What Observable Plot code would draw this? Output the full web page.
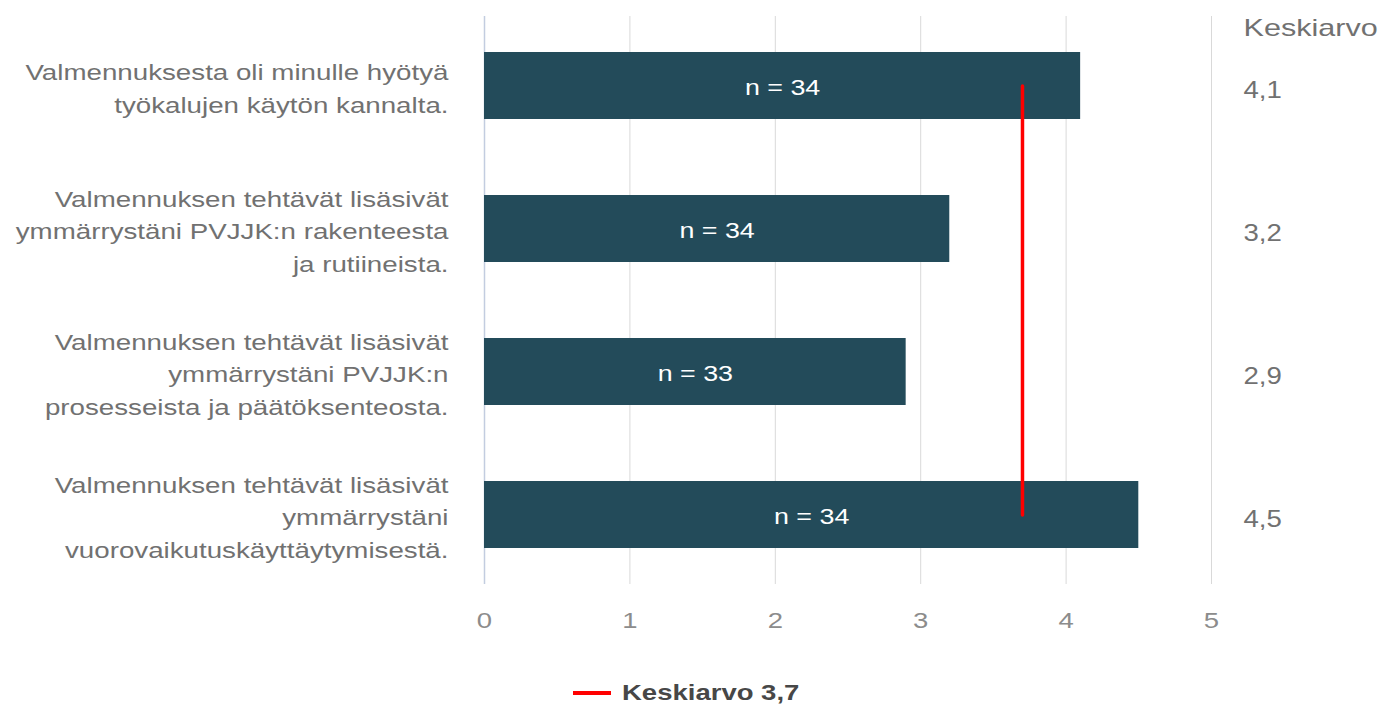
<!DOCTYPE html>
<html>
<head>
<meta charset="utf-8">
<script src="https://cdn.jsdelivr.net/npm/d3@7"></script>
<script src="https://cdn.jsdelivr.net/npm/@observablehq/plot@0.6"></script>
<style>
  html, body { margin: 0; padding: 0; background: #fff; }
  body { width: 1394px; height: 707px; overflow: hidden; position: relative; font-family: "Liberation Sans", Arial, sans-serif; }
  #legend { position: absolute; left: 573px; top: 678px; height: 30px; display: flex; align-items: center; }
  #legend .swatch { width: 38px; height: 4px; background: #ff0000; margin-right: 11px; }
  #legend .label { font-size: 22px; font-weight: bold; color: #474747; display: inline-block; transform: scaleX(1.25); transform-origin: left center; }
</style>
</head>
<body>
<div id="chart"></div>
<div id="legend"><span class="swatch"></span><span class="label"></span></div>
<script>
// Survey statements (wrapped as shown on the left) and their averages
const statements = [
  "Valmennuksesta oli minulle hyötyä\ntyökalujen käytön kannalta.",
  "Valmennuksen tehtävät lisäsivät\nymmärrystäni PVJJK:n rakenteesta\nja rutiineista.",
  "Valmennuksen tehtävät lisäsivät\nymmärrystäni PVJJK:n\nprosesseista ja päätöksenteosta.",
  "Valmennuksen tehtävät lisäsivät\nymmärrystäni\nvuorovaikutuskäyttäytymisestä."
];
const averages = [4.1, 3.2, 2.9, 4.5];
const respondents = [34, 34, 33, 34];
const overallAverage = 3.7;
const xTicks = [0, 1, 2, 3, 4, 5];
const columnTitle = "Keskiarvo";

const fmt = v => v.toFixed(1).replace(".", ",");

const rows = statements.map((s, i) => ({statement: s, avg: averages[i], n: respondents[i]}));
const meanLine = [
  {statement: statements[0], value: overallAverage},
  {statement: statements[statements.length - 1], value: overallAverage}
];

const barColor = "#234b5a";
const textGray = "#717171";

const chart = Plot.plot({
  width: 1394,
  height: 655,
  marginLeft: 484,
  marginRight: 183,
  marginTop: 16,
  marginBottom: 71,
  style: {fontFamily: "'Liberation Sans', Arial, sans-serif", background: "#fff"},
  x: {domain: [0, 5], ticks: xTicks, label: null},
  y: {domain: statements, paddingInner: 0.53, paddingOuter: 0.25, axis: null},
  marks: [
    Plot.gridX(xTicks.filter(t => t > 0), {stroke: "#d9d9d9", strokeOpacity: 1, strokeWidth: 1}),
    Plot.gridX([0], {stroke: "#c3cde0", strokeOpacity: 1, strokeWidth: 1.5}),
    Plot.axisX(xTicks, {
      tickSize: 0, tickPadding: 28, fontSize: 22, color: "#8c8c8c",
      tickFormat: d => String(d), label: null
    }),
    Plot.barX(rows, {x: "avg", y: "statement", fill: barColor}),
    Plot.text(rows, {
      x: d => d.avg / 2, y: "statement", text: d => `n = ${d.n}`,
      fill: "#fff", fontSize: 22, dy: 2
    }),
    Plot.line(meanLine, {x: "value", y: "statement", stroke: "#ff0000", strokeWidth: 3.5}),
    // statement labels on the left
    Plot.text(rows, {
      y: "statement", text: "statement", frameAnchor: "left", dx: -36,
      textAnchor: "end", fill: textGray, fontSize: 22, lineHeight: 1.47
    }),
    // average column on the right
    Plot.text(rows, {
      y: "statement", text: d => fmt(d.avg), frameAnchor: "right", dx: 32, dy: 5,
      textAnchor: "start", fill: textGray, fontSize: 23
    }),
    Plot.text([columnTitle], {
      text: d => d, frameAnchor: "top-right", dx: 32, dy: 12, lineAnchor: "middle",
      textAnchor: "start", fill: textGray, fontSize: 23
    })
  ]
});
document.getElementById("chart").appendChild(chart);

// widen the glyphs horizontally around each label's anchor point
function stretchFor(t) {
  if (t === columnTitle) return 1.33;
  if (/^n = /.test(t)) return 1.22;
  if (/^\d$/.test(t)) return 1.25;
  if (/^\d,\d$/.test(t)) return 1.2;
  return 1.26;
}
chart.querySelectorAll("text").forEach(el => {
  const tr = el.getAttribute("transform") || "";
  el.setAttribute("transform", `${tr} scale(${stretchFor(el.textContent)},1)`);
});

document.querySelector("#legend .label").textContent = `${columnTitle} ${fmt(overallAverage)}`;
</script>
</body>
</html>
